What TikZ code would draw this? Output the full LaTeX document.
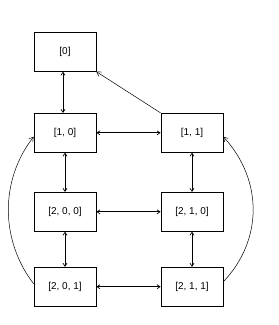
\documentclass[tikz,border=0pt]{standalone}
\usepackage{fontspec}
\setmainfont{Liberation Sans}
\usetikzlibrary{arrows.meta}
\begin{document}
\begin{tikzpicture}[x=1pt,y=1pt,
  box/.style={draw,line width=0.8pt,minimum width=62pt,minimum height=39pt,inner sep=0pt,font=\fontsize{10}{12}\selectfont},
  link/.style={line width=0.7pt,{Straight Barb[length=3pt,width=4pt]}-{Straight Barb[length=3pt,width=4pt]}},
  oneway/.style={line width=0.5pt,-{Straight Barb[length=4pt,width=5pt]}}]
\useasboundingbox (0,0) rectangle (279,325);
\node[box] (n0) at (65,273.2) {[0]};
\node[box] (n10) at (65,192.2) {[1, 0]};
\node[box] (n11) at (192,192.2) {[1, 1]};
\node[box] (n200) at (65,113.2) {[2, 0, 0]};
\node[box] (n210) at (192,113.2) {[2, 1, 0]};
\node[box] (n201) at (65,38.3) {[2, 0, 1]};
\node[box] (n211) at (192,38.3) {[2, 1, 1]};
\draw[link] ([xshift=-2pt]n0.south) -- ([xshift=-2pt]n10.north);
\draw[link] (n10) -- (n11);
\draw[link] (n10) -- (n200);
\draw[link] (n11) -- (n210);
\draw[link] (n200) -- (n210);
\draw[link] (n200) -- (n201);
\draw[link] (n210) -- (n211);
\draw[link] (n201) -- (n211);
\draw[oneway] (n11.north west) -- (n0.south east);
\draw[oneway] ([yshift=3pt]n201.west) .. controls (0,85) and (0,145) .. ([yshift=-4pt]n10.west);
\draw[oneway] ([yshift=5pt]n211.east) .. controls (263,85) and (263,145) .. ([yshift=-4pt]n11.east);
\end{tikzpicture}
\end{document}
